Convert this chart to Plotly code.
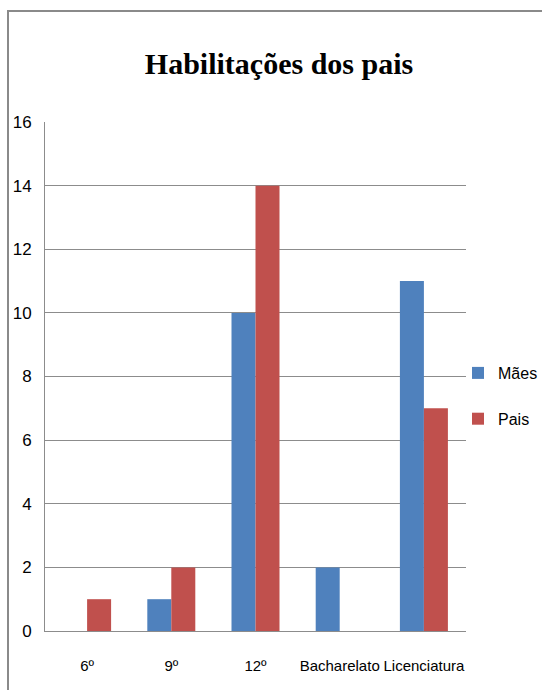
import plotly.graph_objects as go

# Education levels and counts per parent group
categories = ["6º", "9º", "12º", "Bacharelato", "Licenciatura"]
maes = [0, 1, 10, 2, 11]
pais = [1, 2, 14, 0, 7]
y_ticks = [0, 2, 4, 6, 8, 10, 12, 14, 16]

BLUE = "#4F81BD"
RED = "#C0504D"
GRID = "#8C8C8C"
TXT_FONT = "Liberation Sans, Arial, sans-serif"

fig = go.Figure()
fig.add_trace(go.Bar(x=categories, y=maes, name="Mães", marker_color=BLUE,
                     marker_line_width=0, legendgroup="m"))
fig.add_trace(go.Bar(x=categories, y=pais, name="Pais", marker_color=RED,
                     marker_line_width=0, legendgroup="p"))

W, H = 542, 690
L, R, T, B = 45, 76, 122, 59
pw, ph = W - L - R, H - T - B


def px_x(x):
    return (x - L) / pw


def px_y(y):
    return (H - B - y) / ph


fig.update_layout(
    width=W, height=H,
    margin=dict(l=L, r=R, t=T, b=B, autoexpand=False),
    paper_bgcolor="white", plot_bgcolor="white",
    barmode="group", bargap=0.43, bargroupgap=0,
    title=dict(text="<b>Habilitações dos pais</b>",
               font=dict(family="Liberation Serif, Times New Roman, serif", size=30, color="black"),
               x=279 / W, xref="container", xanchor="center",
               y=1 - 63 / H, yref="container", yanchor="middle"),
    font=dict(family=TXT_FONT, size=15, color="black"),
    legend=dict(x=px_x(458), y=px_y(356), xanchor="left", yanchor="top",
                tracegroupgap=22, itemwidth=30,
                font=dict(family=TXT_FONT, size=16, color="black"),
                bgcolor="rgba(0,0,0,0)"),
    xaxis=dict(showgrid=False, showline=True, linecolor=GRID, linewidth=1,
               ticks="", tickangle=0, tickfont=dict(size=15), ticklabelstandoff=21),
    yaxis=dict(range=[0, 16], tickvals=y_ticks, showgrid=True, gridcolor=GRID,
               gridwidth=1, showline=True, linecolor=GRID, linewidth=1,
               zeroline=False, ticks="", ticklabelstandoff=9,
               tickfont=dict(size=17)),
    shapes=[dict(type="rect", xref="paper", yref="paper",
                 x0=px_x(8), x1=px_x(W + 10), y0=px_y(H + 10), y1=px_y(11),
                 line=dict(color="#8A8A8A", width=2), fillcolor="rgba(0,0,0,0)",
                 layer="below")],
)

fig.write_html("out.html")
